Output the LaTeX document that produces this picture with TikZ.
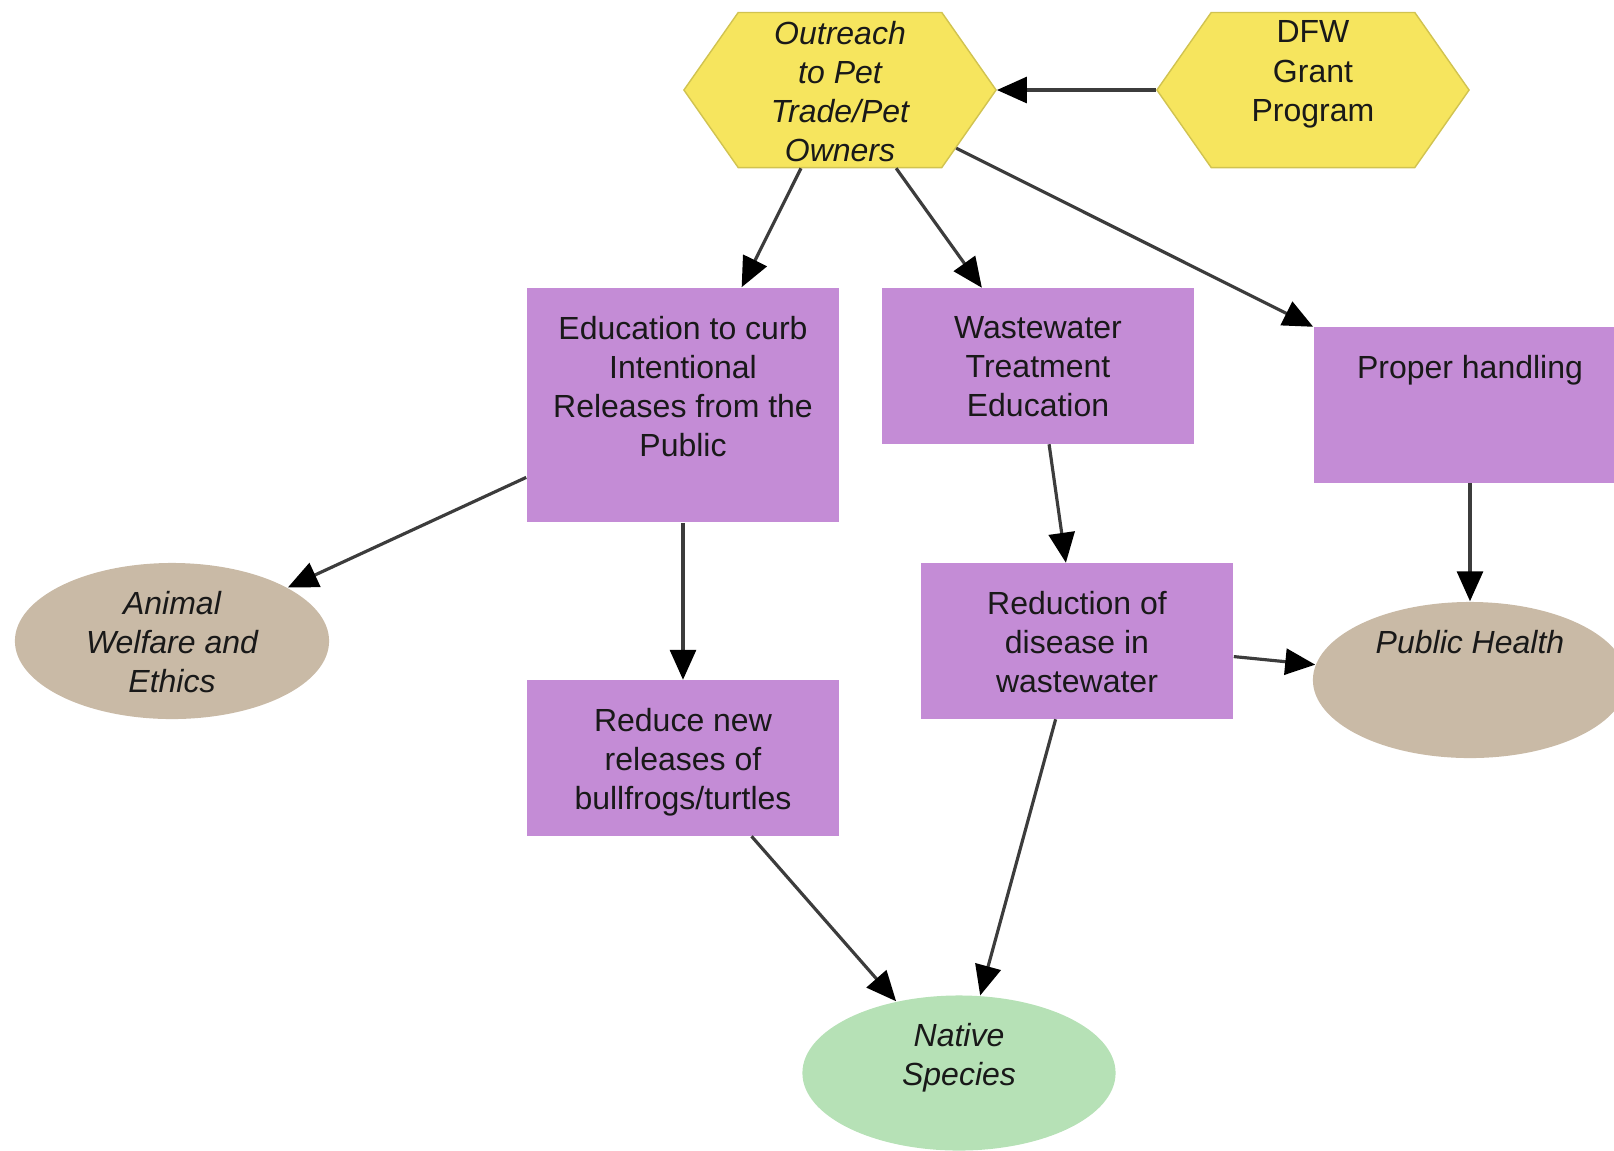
\documentclass[tikz,border=0pt]{standalone}
\usepackage{fontspec}
\setmainfont{Liberation Sans}
\usepackage{xcolor}
\usetikzlibrary{shapes.geometric,shapes.symbols,arrows.meta}

\definecolor{hexyellow}{RGB}{246,229,94}
\definecolor{boxpurple}{RGB}{196,140,214}
\definecolor{ovaltan}{RGB}{201,186,166}
\definecolor{ovalgreen}{RGB}{182,225,182}
\definecolor{linegray}{RGB}{60,60,60}
\newcommand{\nodefont}{\fontsize{9.1}{11.1}\selectfont}

\begin{document}
\begin{tikzpicture}[
  x=0.01cm, y=-0.01cm,
  txt/.style={font=\nodefont, align=center, text=black!90, inner sep=0pt,
              anchor=north},
  toptext/.style={label={[txt, yshift=-0.28cm]north:{#1}}},
  itoptext/.style={label={[txt, yshift=-0.28cm, font=\nodefont\itshape]north:{#1}}},
  hextext/.style={label={[txt, yshift=-0.085cm]north:{#1}}},
  ihextext/.style={label={[txt, yshift=-0.085cm, font=\nodefont\itshape]north:{#1}}},
  hexbox/.style={signal, signal to=east and west, signal pointer angle=110,
                 fill=hexyellow, draw=hexyellow!85!black, line width=0.4pt,
                 minimum width=3.12cm, minimum height=1.55cm, inner sep=0pt},
  purplebox/.style={rectangle, fill=boxpurple, minimum width=3.12cm,
                    minimum height=1.55cm, inner sep=0pt},
  tanoval/.style={ellipse, fill=ovaltan, minimum width=3.14cm,
                  minimum height=1.56cm, inner sep=0pt},
  greenoval/.style={ellipse, fill=ovalgreen, minimum width=3.13cm,
                    minimum height=1.55cm, inner sep=0pt},
  arrow/.style={-{Triangle[length=0.3cm, width=0.26cm, color=black]},
                draw=linegray, line width=0.9pt}
]
  \useasboundingbox (0,0) rectangle (1614,1150);

  % top row
  \node[hexbox, ihextext={Outreach\\to Pet\\Trade/Pet\\Owners}] (outreach) at (840,90) {};
  \node[hexbox, hextext={DFW\\Grant\\Program}] (dfw) at (1313,90) {};

  % actions
  \node[purplebox, minimum height=2.34cm,
        toptext={Education to curb\\Intentional\\Releases from the\\Public}] (education) at (683,405) {};
  \node[purplebox, toptext={Wastewater\\Treatment\\Education}] (wastewater) at (1038,366) {};
  \node[purplebox, toptext={Proper handling}] (handling) at (1470,405) {};
  \node[purplebox, toptext={Reduce new\\releases of\\bullfrogs/turtles}] (reduce) at (683,758) {};
  \node[purplebox, toptext={Reduction of\\disease in\\wastewater}] (disease) at (1077,641) {};

  % outcomes
  \node[tanoval, itoptext={Animal\\Welfare and\\Ethics}] (welfare) at (172,641) {};
  \node[tanoval, itoptext={Public Health}] (health) at (1470,680) {};
  \node[greenoval, itoptext={Native\\Species}] (native) at (959,1073) {};

  \draw[arrow] (dfw)        -- (outreach);
  \draw[arrow] (outreach)   -- (education);
  \draw[arrow] (outreach)   -- (wastewater);
  \draw[arrow] (outreach)   -- (handling);
  \draw[arrow] (education)  -- (welfare);
  \draw[arrow] (education)  -- (reduce);
  \draw[arrow] (wastewater) -- (disease);
  \draw[arrow] (handling)   -- (health);
  \draw[arrow] (disease)    -- (health);
  \draw[arrow] (reduce)     -- (native);
  \draw[arrow] (disease)    -- (native);
\end{tikzpicture}
\end{document}
